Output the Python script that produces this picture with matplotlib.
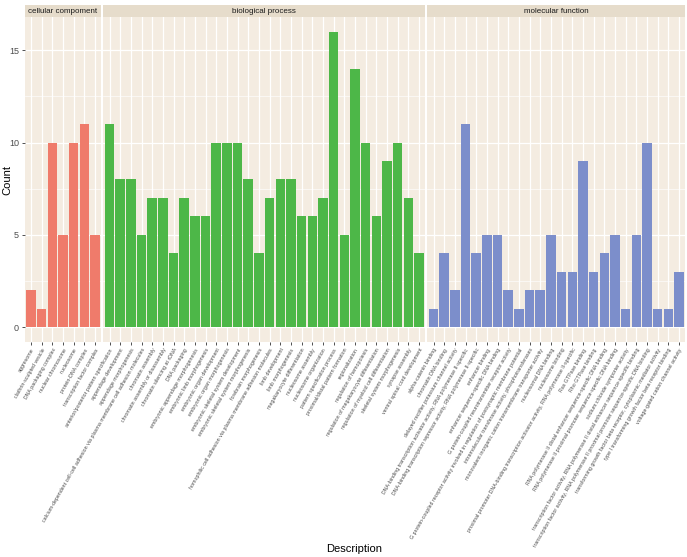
import numpy as np
import matplotlib
matplotlib.use('Agg')
from matplotlib import pyplot as plt

plt.rcParams['font.family'] = ['Liberation Sans', 'DejaVu Sans']

# categories and counts for each GO ontology
cc_terms = ['aggresome', 'clathrin-sculpted vesicle', 'DNA packaging complex',
            'nuclear chromosome', 'nucleosome', 'protein-DNA complex',
            'transcription factor complex']
cc_counts = [2, 1, 10, 5, 10, 11, 5]

bp_terms = ['anterior/posterior pattern specification', 'appendage development',
            'appendage morphogenesis',
            'calcium-dependent cell-cell adhesion via plasma membrane cell adhesion molecules',
            'chromatin assembly', 'chromatin assembly or disassembly',
            'chromatin silencing at rDNA', 'DNA packaging',
            'embryonic appendage morphogenesis', 'embryonic limb morphogenesis',
            'embryonic organ development', 'embryonic organ morphogenesis',
            'embryonic skeletal system development',
            'embryonic skeletal system morphogenesis', 'forebrain morphogenesis',
            'homophilic cell adhesion via plasma membrane adhesion molecules',
            'limb development', 'limb morphogenesis',
            'megakaryocyte differentiation', 'nucleosome assembly',
            'nucleosome organization', 'pattern specification process',
            'proximal/distal pattern formation', 'regionalization',
            'regulation of hemopoiesis',
            'regulation of megakaryocyte differentiation',
            'regulation of myeloid cell differentiation',
            'skeletal system morphogenesis', 'synapse assembly',
            'ventral spinal cord development']
bp_counts = [11, 8, 8, 5, 7, 7, 4, 7, 6, 6, 10, 10, 10, 8, 4, 7, 8, 8, 6, 6,
             7, 16, 5, 14, 10, 6, 9, 10, 7, 4]

mf_terms = ['alpha-catenin binding', 'chromatin DNA binding',
            'delayed rectifier potassium channel activity',
            'DNA-binding transcription activator activity, RNA polymerase II-specific',
            'DNA-binding transcription repressor activity, RNA polymerase II-specific',
            'enhancer binding', 'enhancer sequence-specific DNA binding',
            'G protein-coupled neurotransmitter receptor activity',
            'G protein-coupled receptor activity involved in regulation of postsynaptic membrane potential',
            'intramolecular transferase activity, phosphotransferases',
            'monovalent inorganic cation transmembrane transporter activity',
            'nucleosomal DNA binding', 'nucleosome binding',
            'proximal promoter DNA-binding transcription activator activity, RNA polymerase II-specific',
            'Ras GTPase binding', 'Rho GTPase binding',
            'RNA polymerase II distal enhancer sequence-specific DNA binding',
            'RNA polymerase II proximal promoter sequence-specific DNA binding',
            'sodium:chloride symporter activity',
            'transcription factor activity, RNA polymerase II distal enhancer sequence-specific binding',
            'transcription factor activity, RNA polymerase II proximal promoter sequence-specific DNA binding',
            'transforming growth factor beta receptor, cytoplasmic mediator activity',
            'type I transforming growth factor beta receptor binding',
            'voltage-gated cation channel activity']
mf_counts = [1, 4, 2, 11, 4, 5, 5, 2, 1, 2, 2, 5, 3, 3, 9, 3, 4, 5, 1, 5, 10,
             1, 1, 3]

panels = [('cellular compoment', cc_terms, cc_counts, '#EF7B6B'),
          ('biological process', bp_terms, bp_counts, '#4DB748'),
          ('molecular function', mf_terms, mf_counts, '#7C8ECB')]

PANEL_BG = '#F4ECE1'
STRIP_BG = '#E6DCCB'
TXT = '#4D4D4D'

fig = plt.figure(figsize=(6.87, 5.57), dpi=100)
widths = [len(p[1]) + 0.2 for p in panels]
gs = fig.add_gridspec(1, 3, width_ratios=widths, left=0.0358, right=0.9977,
                      bottom=0.386, top=0.9695, wspace=0.008)

for i, (name, terms, counts, col) in enumerate(panels):
    ax = fig.add_subplot(gs[0, i])
    x = np.arange(len(terms))
    ax.set_facecolor(PANEL_BG)
    ax.set_axisbelow(True)
    ax.bar(x, counts, width=0.9, color=col, zorder=2)
    ax.set_xlim(-0.6, len(terms) - 0.4)
    ax.set_ylim(-0.8, 16.8)
    ax.set_yticks([0, 5, 10, 15])
    ax.set_yticks([2.5, 7.5, 12.5], minor=True)
    ax.set_xticks(x)
    ax.set_xticklabels(terms, rotation=60, ha='right', va='top',
                       rotation_mode='anchor', fontsize=3.8, color=TXT)
    ax.grid(which='major', color='white', linewidth=0.9)
    ax.grid(which='minor', axis='y', color='white', linewidth=0.45)
    for s in ax.spines.values():
        s.set_visible(False)
    ax.tick_params(axis='both', which='major', length=2.5, width=0.6,
                   color='#333333', labelsize=6.5, labelcolor=TXT, pad=1.5)
    ax.tick_params(axis='x', labelsize=3.8, pad=1.5)
    ax.tick_params(which='minor', length=0)
    if i > 0:
        ax.tick_params(axis='y', left=False, labelleft=False)
    # facet strip
    pos = ax.get_position()
    strip = fig.add_axes([pos.x0, pos.y1, pos.width, 0.0215])
    strip.set_facecolor(STRIP_BG)
    strip.set_xticks([])
    strip.set_yticks([])
    for s in strip.spines.values():
        s.set_visible(False)
    strip.text(0.5, 0.5, name, ha='center', va='center', fontsize=5.8,
               color='#1A1A1A', transform=strip.transAxes)

fig.text(0.011, 0.677, 'Count', rotation=90, ha='center', va='center', fontsize=8)
fig.text(0.515, 0.006, 'Description', ha='center', va='bottom', fontsize=8)

fig.savefig('out.png', dpi=100, facecolor='white')
